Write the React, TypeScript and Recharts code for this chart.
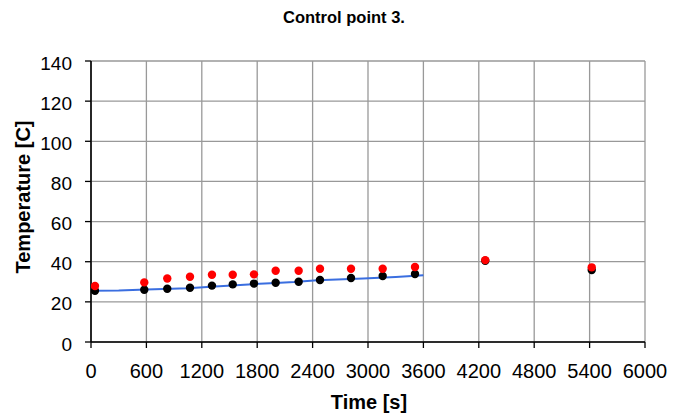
import React from 'react';
import { ComposedChart, XAxis, YAxis, CartesianGrid, Scatter, Line } from 'recharts';

const timeTicks = [0, 600, 1200, 1800, 2400, 3000, 3600, 4200, 4800, 5400, 6000];
const tempTicks = [0, 20, 40, 60, 80, 100, 120, 140];

const pointTimes = [43, 577, 826, 1072, 1310, 1535, 1765, 2000, 2249, 2480, 2816, 3159, 3509, 4270, 5423];
const redTemps = [27.9, 29.7, 31.6, 32.5, 33.5, 33.5, 33.7, 35.5, 35.5, 36.5, 36.5, 36.5, 37.4, 40.8, 37.2];
const blackTemps = [25.5, 26.0, 26.5, 27.0, 28.1, 28.7, 29.1, 29.5, 30.0, 30.9, 31.9, 32.9, 33.9, 40.5, 35.9];

const lineTimes = [0, 300, 600, 1050, 1300, 1750, 2000, 2200, 2450, 2950, 3300, 3600];
const lineTemps = [25.5, 25.6, 26.1, 26.8, 27.5, 28.8, 29.4, 29.9, 30.8, 31.6, 32.4, 33.3];

const redData = pointTimes.map((t, i) => ({ t, v: redTemps[i] }));
const blackData = pointTimes.map((t, i) => ({ t, v: blackTemps[i] }));
const lineData = lineTimes.map((t, i) => ({ t, v: lineTemps[i] }));

const FONT = '"Liberation Sans", Arial, sans-serif';

const XTick = (props: any) => (
  <text x={props.x} y={props.y + 28} textAnchor="middle" fontFamily={FONT} fontSize={20} fill="#000">
    {props.payload.value}
  </text>
);

const YTick = (props: any) => (
  <text x={props.x - 11} y={props.y + 8.5} textAnchor="end" fontFamily={FONT} fontSize={19} fill="#000">
    {props.payload.value}
  </text>
);

const dot = (color: string) => (props: any) => (
  <circle cx={props.cx} cy={props.cy} r={4.2} fill={color} />
);

export default function App() {
  return (
    <div style={{ position: 'absolute', left: 0, top: 0, width: 686, height: 418, background: '#fff' }}>
      <ComposedChart width={686} height={418} margin={{ top: 61, right: 41, left: 0, bottom: 0 }}>
        <CartesianGrid stroke="#999" strokeWidth={1.3} horizontalValues={tempTicks} verticalValues={timeTicks} />
        <XAxis
          type="number"
          dataKey="t"
          domain={[0, 6000]}
          ticks={timeTicks}
          interval={0}
          height={76}
          tickSize={6}
          tickMargin={2}
          tick={XTick}
          axisLine={{ stroke: '#000', strokeWidth: 1.6 }}
          tickLine={{ stroke: '#000', strokeWidth: 1.3 }}
          allowDataOverflow
        />
        <YAxis
          type="number"
          dataKey="v"
          domain={[0, 140]}
          ticks={tempTicks}
          interval={0}
          width={91}
          tickSize={6}
          tickMargin={2}
          tick={YTick}
          axisLine={{ stroke: '#000', strokeWidth: 1.6 }}
          tickLine={{ stroke: '#000', strokeWidth: 1.3 }}
          allowDataOverflow
        />
        <Line
          data={lineData}
          dataKey="v"
          type="linear"
          stroke="#3a6ee0"
          strokeWidth={2}
          dot={false}
          activeDot={false}
          isAnimationActive={false}
        />
        <Scatter data={blackData} dataKey="v" shape={dot('#000')} isAnimationActive={false} />
        <Scatter data={redData} dataKey="v" shape={dot('#ff0000')} isAnimationActive={false} />
      </ComposedChart>
      <svg width={686} height={418} style={{ position: 'absolute', left: 0, top: 0, pointerEvents: 'none' }}>
        <text x={344} y={23} textAnchor="middle" fontFamily={FONT} fontSize={16.5} fontWeight="bold" fill="#000">
          Control point 3.
        </text>
        <text x={369} y={409} textAnchor="middle" fontFamily={FONT} fontSize={20} fontWeight="bold" fill="#000">
          Time [s]
        </text>
        <text
          x={30}
          y={197}
          transform="rotate(-90, 30, 197)"
          textAnchor="middle"
          fontFamily={FONT}
          fontSize={20}
          fontWeight="bold"
          fill="#000"
        >
          Temperature [C]
        </text>
      </svg>
    </div>
  );
}
